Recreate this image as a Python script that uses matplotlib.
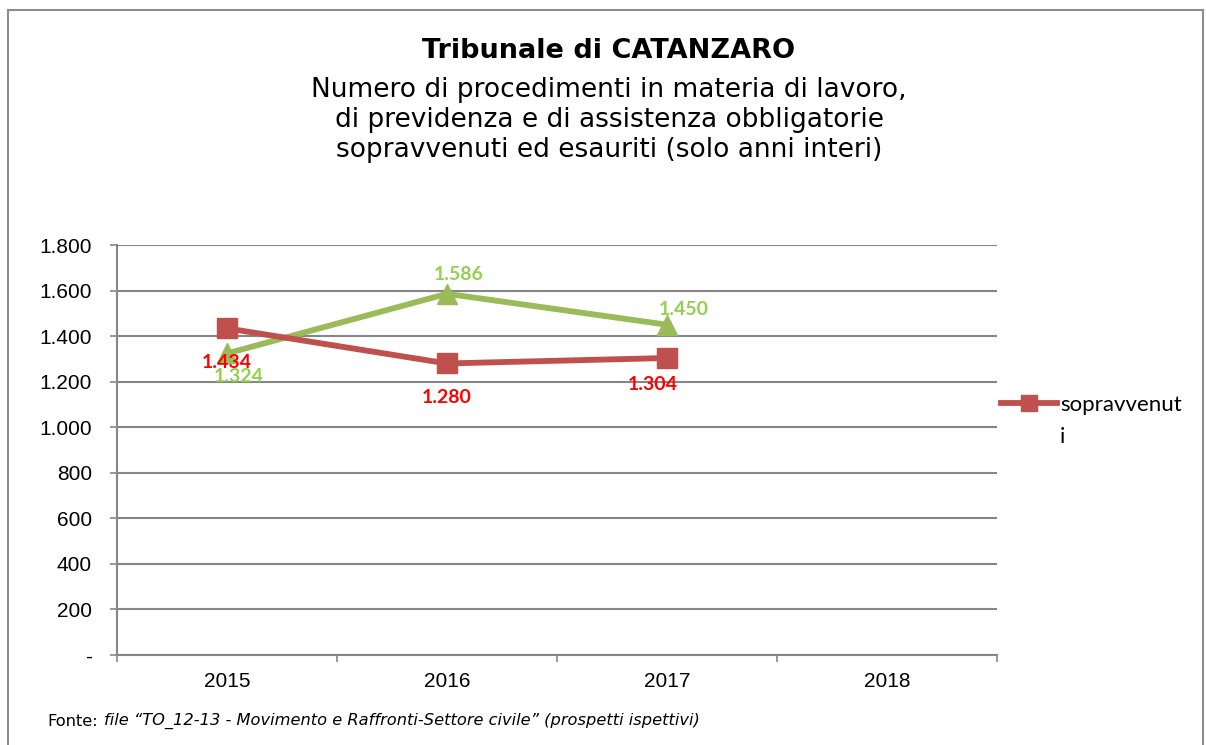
import matplotlib.pyplot as plt
from matplotlib.lines import Line2D

anni = ['2015', '2016', '2017', '2018']
sopravvenuti = [1434, 1280, 1304]
esauriti = [1324, 1586, 1450]
y_ticks = [0, 200, 400, 600, 800, 1000, 1200, 1400, 1600, 1800]
y_labels = ['-', '200', '400', '600', '800', '1.000', '1.200', '1.400', '1.600', '1.800']

def fmt(v):
    return f"{v:,}".replace(',', '.')

fig = plt.figure(figsize=(12.06, 7.45), dpi=100)
ax = fig.add_axes([0.0970, 0.1208, 0.7297, 0.5503])

# cornice grigia del grafico
frame = dict(color='#8c8c8c', lw=1.5, transform=fig.transFigure)
fig.add_artist(Line2D([8/1206, 8/1206], [0, 1 - 10/745], **frame))
fig.add_artist(Line2D([8/1206, 1203/1206], [1 - 10/745, 1 - 10/745], **frame))
fig.add_artist(Line2D([1203/1206, 1203/1206], [0, 1 - 10/745], **frame))

x = list(range(len(anni)))
red = '#C0504D'
green = '#9BBB59'
ax.plot(x[:3], esauriti, color=green, lw=4.2, marker='^', ms=14, zorder=3)
ax.plot(x[:3], sopravvenuti, color=red, lw=4.2, marker='s', ms=14, zorder=4)

# etichette dati (offset in pixel convertiti in punti)
red_offs = [(0, -34), (0, -34), (-14, -26)]
green_offs = [(12, -23), (12, 19), (17, 15)]
for i, v in enumerate(sopravvenuti):
    dx, dy = red_offs[i]
    ax.annotate(fmt(v), (i, v), xytext=(dx * 0.72, dy * 0.72), textcoords='offset points',
                ha='center', va='center', color='#FF0000', fontsize=14,
                fontweight='bold', family='Lato', zorder=5)
for i, v in enumerate(esauriti):
    dx, dy = green_offs[i]
    ax.annotate(fmt(v), (i, v), xytext=(dx * 0.72, dy * 0.72), textcoords='offset points',
                ha='center', va='center', color='#92D050', fontsize=14,
                fontweight='bold', family='Lato', zorder=5)

ax.set_xlim(-0.5, 3.5)
ax.set_ylim(0, 1800)
ax.set_yticks(y_ticks)
ax.set_yticklabels(y_labels, family='Liberation Sans', fontsize=15)
ax.set_xticks(x)
ax.set_xticklabels(anni, family='Liberation Sans', fontsize=15)
ax.tick_params(axis='x', length=0, pad=12.5)
ax.set_xticks([-0.5, 0.5, 1.5, 2.5, 3.5], minor=True)
ax.tick_params(axis='x', which='minor', length=5, color='#868686', width=1.2, direction='out')
ax.tick_params(axis='y', length=5, color='#868686', width=1.2, pad=13)
ax.grid(axis='y', color='#868686', lw=1.5)
ax.set_axisbelow(True)
for s in ['top', 'right']:
    ax.spines[s].set_visible(False)
for s in ['left', 'bottom']:
    ax.spines[s].set_color('#868686')
    ax.spines[s].set_linewidth(1.5)

# legenda (solo sopravvenuti, testo spezzato su due righe)
h = Line2D([], [], color=red, lw=4.2, marker='s', ms=11)
ax.legend([h], ['sopravvenut'], loc='center left', bbox_to_anchor=(1.005, 0.61),
          frameon=False, prop={'family': 'Lato', 'size': 16}, handlelength=2.5,
          handletextpad=0.15, borderaxespad=0, borderpad=0)
fig.text(1060/1206, 1 - 437/745, 'i', ha='left', va='center', fontsize=16, family='Lato')

fig.text(0.505, 1 - 51/745, 'Tribunale di CATANZARO', ha='center', va='center',
         fontsize=19.5, fontweight='bold', family='DejaVu Sans')
fig.text(0.505, 1 - 120/745,
         'Numero di procedimenti in materia di lavoro,\ndi previdenza e di assistenza obbligatorie\nsopravvenuti ed esauriti (solo anni interi)',
         ha='center', va='center', fontsize=19, family='DejaVu Sans', linespacing=1.22)

fig.text(47/1206, 1 - 721/745, 'Fonte:', ha='left', va='center', fontsize=11.7, family='DejaVu Sans')
fig.text(104/1206, 1 - 721/745, 'file \u201cTO_12-13 - Movimento e Raffronti-Settore civile\u201d (prospetti ispettivi)',
         ha='left', va='center', fontsize=11.7, style='italic', family='DejaVu Sans')

fig.savefig('out.png', dpi=100)
